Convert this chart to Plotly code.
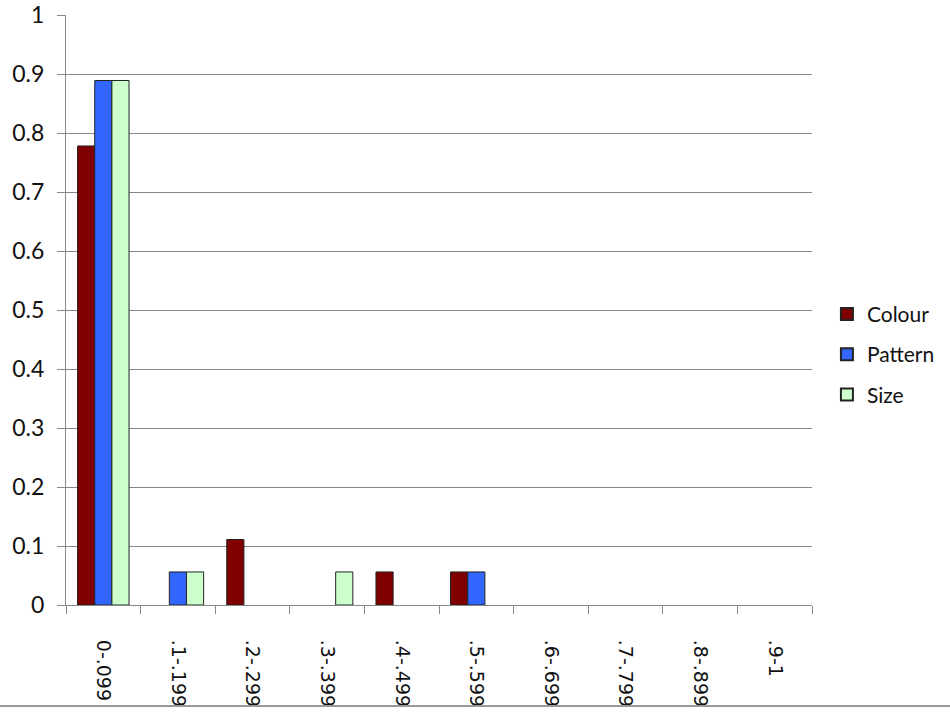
import plotly.graph_objects as go

categories = ["0-.099", ".1-.199", ".2-.299", ".3-.399", ".4-.499",
              ".5-.599", ".6-.699", ".7-.799", ".8-.899", ".9-1"]
colour_vals = [0.778, 0, 0.111, 0, 0.056, 0.056, 0, 0, 0, 0]
pattern_vals = [0.889, 0.056, 0, 0, 0, 0.056, 0, 0, 0, 0]
size_vals = [0.889, 0.056, 0, 0.056, 0, 0, 0, 0, 0, 0]
y_ticks = [0, 0.1, 0.2, 0.3, 0.4, 0.5, 0.6, 0.7, 0.8, 0.9, 1]
y_tick_text = ["0", "0.1", "0.2", "0.3", "0.4", "0.5", "0.6", "0.7", "0.8", "0.9", "1"]

series = [("Colour", colour_vals, "#800000"),
          ("Pattern", pattern_vals, "#3366FF"),
          ("Size", size_vals, "#CCFFCC")]

fig = go.Figure()
for name, vals, col in series:
    fig.add_trace(go.Bar(
        x=categories, y=vals, name=name, legendgroup=name,
        marker=dict(color=col,
                    line=dict(color="#222222",
                              width=[1 if v > 0 else 0 for v in vals])),
    ))

fig.update_layout(
    width=950, height=713,
    paper_bgcolor="white", plot_bgcolor="white",
    margin=dict(l=66, r=138, t=15, b=108, autoexpand=False),
    barmode="group", bargap=0.31, bargroupgap=0,
    font=dict(family="Lato, sans-serif", size=22, color="#111111"),
    legend=dict(x=1.02, xanchor="left", y=0.425, yanchor="middle",
                tracegroupgap=10, font=dict(size=21),
                itemsizing="constant"),
    xaxis=dict(
        type="category", tickangle=90, tickson="boundaries",
        ticks="outside", ticklen=8, tickcolor="#888888",
        showline=True, linecolor="#888888", linewidth=1,
        showgrid=False, automargin=False, ticklabelstandoff=30,
        tickfont=dict(family="DejaVu Sans, sans-serif", size=19),
    ),
    yaxis=dict(
        range=[0, 1], tickvals=y_ticks, ticktext=y_tick_text,
        ticks="outside", ticklen=8, tickcolor="#888888",
        showline=True, linecolor="#888888", linewidth=1,
        showgrid=True, gridcolor="#888888", gridwidth=1,
        zeroline=False, mirror=False, automargin=False,
        ticklabelstandoff=8,
        tickfont=dict(size=23),
    ),
    shapes=[dict(type="line", xref="paper", yref="paper",
                 x0=-66/746, x1=(950-66)/746, y0=-101/590, y1=-101/590,
                 line=dict(color="#999999", width=2))],
)

fig.write_html("out.html", config={"displayModeBar": False},
               post_script="document.body.style.margin='0';")
